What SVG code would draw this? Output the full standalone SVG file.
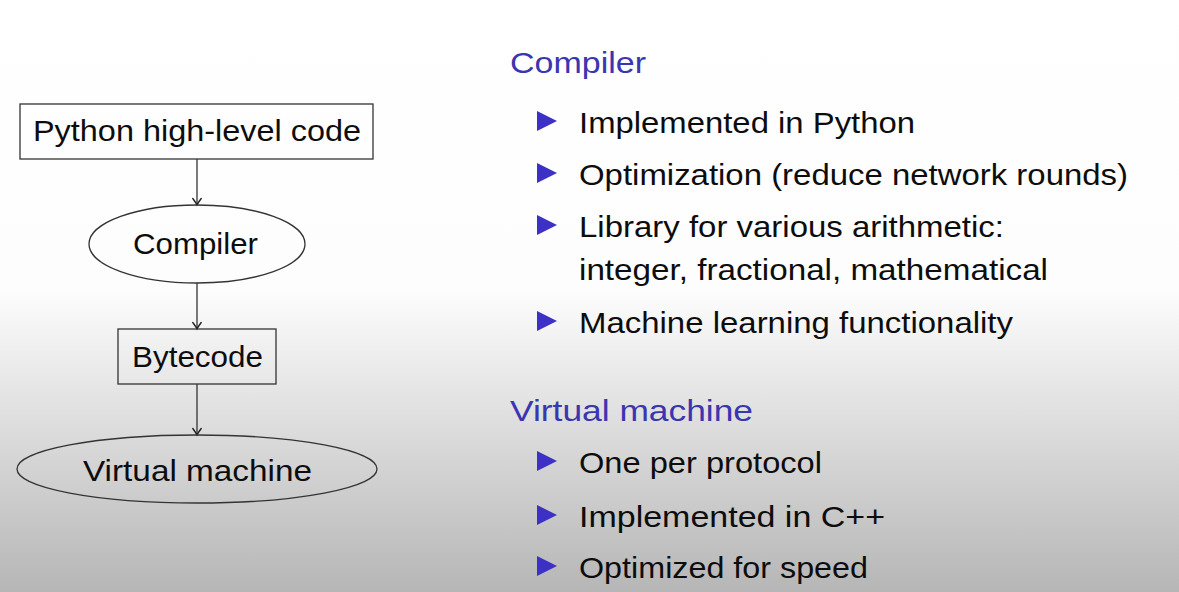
<svg xmlns="http://www.w3.org/2000/svg" width="1179" height="592" viewBox="0 0 1179 592">
  <defs>
    <linearGradient id="bg" x1="0" y1="0" x2="0" y2="1">
      <stop offset="0" stop-color="#ffffff"/>
      <stop offset="0.49" stop-color="#fdfdfd"/>
      <stop offset="0.64" stop-color="#e8e8e8"/>
      <stop offset="1" stop-color="#b6b6b6"/>
    </linearGradient>
    <marker id="arr" viewBox="-8 -5 10 10" refX="0" refY="0" markerWidth="10" markerHeight="10" markerUnits="userSpaceOnUse" orient="auto">
      <path d="M -6.5 -4.2 Q -2.5 -1.2 0 0 Q -2.5 1.2 -6.5 4.2" fill="none" stroke="#222222" stroke-width="1.4" stroke-linecap="round"/>
    </marker>
  </defs>
  <style>
    .t { font-family: "Liberation Sans", Arial, sans-serif; font-size: 30px; fill: #0d0d0d; }
    .h { font-family: "Liberation Sans", Arial, sans-serif; font-size: 30px; fill: #3a36b0; }
    .shape { fill: none; stroke: #333333; stroke-width: 1.3; }
    .edge { stroke: #333333; stroke-width: 1.3; fill: none; }
    .bul { fill: #3c31c4; }
  </style>
  <rect x="0" y="0" width="1179" height="592" fill="url(#bg)"/>

  <g id="connectors">
    <line class="edge" x1="197" y1="159" x2="197" y2="205" marker-end="url(#arr)"/>
    <line class="edge" x1="197" y1="283" x2="197" y2="329" marker-end="url(#arr)"/>
    <line class="edge" x1="197" y1="384" x2="197" y2="435" marker-end="url(#arr)"/>
  </g>

  <g id="node-python">
    <rect class="shape" x="20" y="104" width="353" height="55"/>
    <text class="t" x="33" y="141" textLength="328" lengthAdjust="spacingAndGlyphs">Python high-level code</text>
  </g>
  <g id="node-compiler">
    <ellipse class="shape" cx="197" cy="244" rx="108" ry="39"/>
    <text class="t" x="133" y="254" textLength="125" lengthAdjust="spacingAndGlyphs">Compiler</text>
  </g>
  <g id="node-bytecode">
    <rect class="shape" x="118" y="329" width="158" height="55"/>
    <text class="t" x="132" y="367" textLength="131" lengthAdjust="spacingAndGlyphs">Bytecode</text>
  </g>
  <g id="node-vm">
    <ellipse class="shape" cx="197" cy="469" rx="180" ry="34"/>
    <text class="t" x="83" y="481" textLength="229" lengthAdjust="spacingAndGlyphs">Virtual machine</text>
  </g>

  <g id="compiler-list">
    <text class="h" x="510" y="73" textLength="136" lengthAdjust="spacingAndGlyphs">Compiler</text>
    <polygon class="bul" points="537,111 557,121 537,131"/>
    <text class="t" x="579" y="133" textLength="336" lengthAdjust="spacingAndGlyphs">Implemented in Python</text>
    <polygon class="bul" points="537,163 557,173 537,183"/>
    <text class="t" x="579" y="185" textLength="549" lengthAdjust="spacingAndGlyphs">Optimization (reduce network rounds)</text>
    <polygon class="bul" points="537,215 557,225 537,235"/>
    <text class="t" x="579" y="237" textLength="425" lengthAdjust="spacingAndGlyphs">Library for various arithmetic:</text>
    <text class="t" x="579" y="280" textLength="469" lengthAdjust="spacingAndGlyphs">integer, fractional, mathematical</text>
    <polygon class="bul" points="537,311 557,321 537,331"/>
    <text class="t" x="579" y="333" textLength="434" lengthAdjust="spacingAndGlyphs">Machine learning functionality</text>
  </g>

  <g id="vm-list">
    <text class="h" x="510" y="421" textLength="243" lengthAdjust="spacingAndGlyphs">Virtual machine</text>
    <polygon class="bul" points="537,451 557,461 537,471"/>
    <text class="t" x="579" y="473" textLength="243" lengthAdjust="spacingAndGlyphs">One per protocol</text>
    <polygon class="bul" points="537,505 557,515 537,525"/>
    <text class="t" x="579" y="527" textLength="306" lengthAdjust="spacingAndGlyphs">Implemented in C++</text>
    <polygon class="bul" points="537,556 557,566 537,576"/>
    <text class="t" x="579" y="578" textLength="289" lengthAdjust="spacingAndGlyphs">Optimized for speed</text>
  </g>
</svg>
